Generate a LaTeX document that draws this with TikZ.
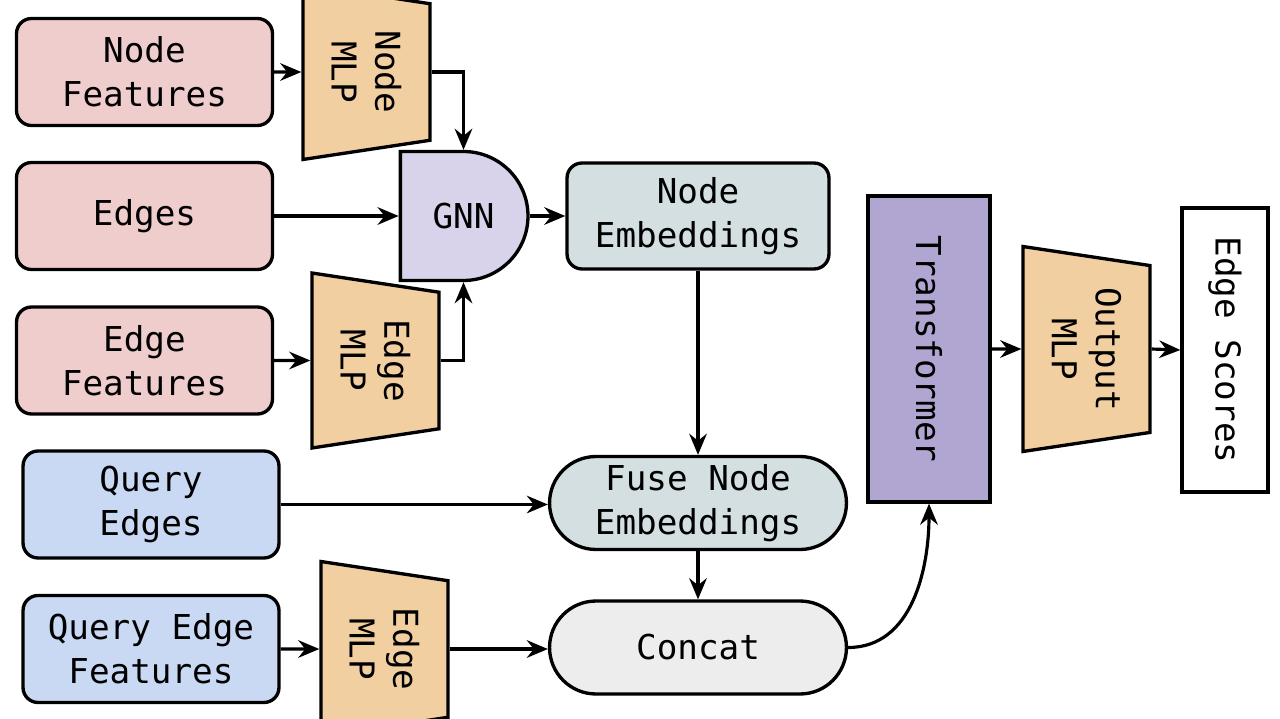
\documentclass[tikz,border=0pt]{standalone}
\usepackage{fontspec}
\newfontfamily\diagfont{DejaVu Sans Mono}
\usepackage{tikz}
\usetikzlibrary{positioning,arrows.meta,shapes.geometric,shapes.misc}

\definecolor{pinkin}{HTML}{EFCDCD}
\definecolor{bluein}{HTML}{C9D9F3}
\definecolor{mlpfill}{HTML}{F2CFA0}
\definecolor{gnnfill}{HTML}{D8D3EA}
\definecolor{embfill}{HTML}{D3DFE1}
\definecolor{catfill}{HTML}{EDEDED}
\definecolor{trffill}{HTML}{B1A6D2}

\begin{document}
\begin{tikzpicture}[x=0.02cm, y=-0.02cm,
  every node/.style={font=\diagfont\fontsize{19.5}{25}\selectfont, align=center, line width=1.9pt, inner sep=2pt},
  inbox/.style={draw, rounded corners=0.3cm, minimum width=5.12cm, minimum height=2.14cm},
  graph_in/.style={inbox, fill=pinkin},
  query_in/.style={inbox, fill=bluein},
  mlp/.style={draw, fill=mlpfill, trapezium, trapezium angle=76, trapezium stretches body, rotate=-90, minimum width=3.5cm, minimum height=2.54cm},
  pill/.style={draw, rounded rectangle, minimum width=6.08cm, minimum height=1.86cm},
  link/.style={line width=1.8pt, -{Stealth[length=12pt, width=10pt, inset=4pt]}}]
\useasboundingbox (0, 0) rectangle (1280, 719);

\path (144.5, 72) node[graph_in] (node_feat) {Node\\Features};
\path (144.5, 216) node[graph_in] (edges) {Edges};
\path (144.5, 360.5) node[graph_in] (edge_feat) {Edge\\Features};

\path (151, 504.5) node[query_in] (query_edges) {Query\\Edges};
\path (151, 649) node[query_in] (query_feat) {Query Edge\\Features};

\path (366.5, 72) node[mlp] (node_mlp) {Node\\MLP};
\path (375.5, 360.5) node[mlp] (edge_mlp) {Edge\\MLP};
\path (384.5, 649) node[mlp] (query_mlp) {Edge\\MLP};

\path (463.5, 216) node[draw, fill=gnnfill, rounded rectangle, rounded rectangle left arc=none, minimum width=2.54cm, minimum height=2.58cm] (gnn) {GNN};

\path (698, 216) node[draw, fill=embfill, rounded corners=0.3cm, minimum width=5.24cm, minimum height=2.12cm] (node_emb) {Node\\Embeddings};
\path (698, 503) node[pill, fill=embfill] (fuse) {Fuse Node\\Embeddings};
\path (698, 647.5) node[pill, fill=catfill] (concat) {Concat};

\path (929, 349) node[draw, fill=trffill, rotate=-90, minimum width=6.12cm, minimum height=2.44cm] (transformer) {Transformer};
\path (1086.5, 349) node[mlp, minimum width=4.1cm] (out_mlp) {Output\\MLP};
\path (1225, 350) node[draw, fill=white, rotate=-90, minimum width=5.68cm, minimum height=1.72cm] (scores) {Edge Scores};

% rotated nodes: south is the left side, north the right side
\draw[link] (node_feat.east) -- (node_mlp.south);
\draw[link] (edge_feat.east) -- (edge_mlp.south);
\draw[link] (query_feat.east) -- (query_mlp.south);
\draw[link] (node_mlp.north) -| (gnn.north);
\draw[link] (edge_mlp.north) -| (gnn.south);
\draw[link] (edges.east) -- (gnn.west);
\draw[link] (gnn.east) -- (node_emb.west);
\draw[link] (node_emb.south) -- (fuse.north);
\draw[link] (query_edges.east) -- (query_edges.east -| fuse.west);
\draw[link] (fuse.south) -- (concat.north);
\draw[link] (query_mlp.north) -- (query_mlp.north -| concat.west);
\draw[link] (concat.east) to[out=0, in=-90] (transformer.east);
\draw[link] (transformer.north) -- (out_mlp.south);
\draw[link] (out_mlp.north) -- (scores.south);
\end{tikzpicture}
\end{document}
